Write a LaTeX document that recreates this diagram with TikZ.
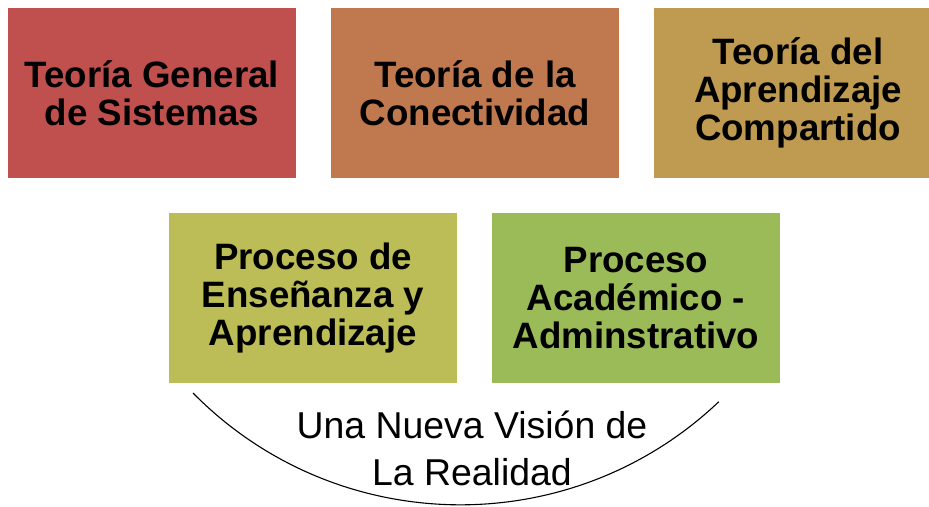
\documentclass[tikz,border=0pt]{standalone}
\usepackage{fontspec}
\setmainfont{Liberation Sans}
\definecolor{cA}{HTML}{C0504D}
\definecolor{cB}{HTML}{C0784F}
\definecolor{cC}{HTML}{BF9B51}
\definecolor{cD}{HTML}{BCBD57}
\definecolor{cE}{HTML}{9BBB59}
\tikzset{
  tbox/.style={rectangle, minimum width=288pt, minimum height=170pt, inner sep=0pt,
    align=center, font=\fontsize{36.7}{38}\selectfont\bfseries, text=black},
  vision/.style={align=center, font=\fontsize{37.4}{47}\selectfont, text=black, inner sep=0pt},
  arcline/.style={draw=black, line width=1.1pt}
}
\begin{document}
\begin{tikzpicture}[x=1pt,y=1pt]
\clip (0,0) rectangle (929,-506);
\fill[white] (0,0) rectangle (929,-506);
\node[tbox, fill=cA] (b1) at (152,-93) {Teoría General\\de Sistemas};
\node[tbox, fill=cB] (b2) at (475,-93) {Teoría de la\\Conectividad};
\node[tbox, fill=cC] (b3) at (798,-93) {Teoría del\\Aprendizaje\\Compartido};
\node[tbox, fill=cD] (b4) at (313,-298) {Proceso de\\Enseñanza y\\Aprendizaje};
\node[tbox, fill=cE] (b5) at (636,-298) {Proceso\\Académico -\\Adminstrativo};
\coordinate (arcstart) at (193,-393);
\draw[arcline] (arcstart) arc[start angle=224.6, end angle=313.5, radius=375.5];
\node[vision] (vis) at (472,-448) {Una Nueva Visión de\\La Realidad};
\end{tikzpicture}
\end{document}
